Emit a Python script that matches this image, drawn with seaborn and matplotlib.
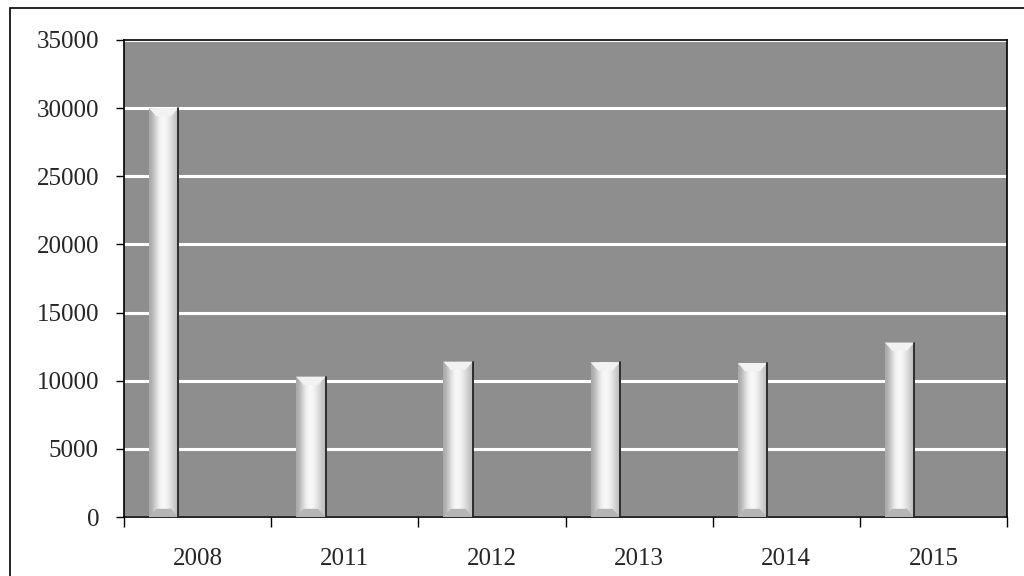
import numpy as np
import pandas as pd
import matplotlib
matplotlib.use('Agg')
import matplotlib.pyplot as plt
import seaborn as sns
from matplotlib.patches import Rectangle, Polygon

# Данные с графика
years = ['2008', '2011', '2012', '2013', '2014', '2015']
values = [30000, 10300, 11400, 11350, 11300, 12800]
y_ticks = [0, 5000, 10000, 15000, 20000, 25000, 30000, 35000]

df = pd.DataFrame({'Year': years, 'Value': values})

sns.set_theme(style='white')
plt.rcParams['font.family'] = ['Liberation Serif', 'DejaVu Serif']

fig = plt.figure(figsize=(10.24, 5.76), dpi=100)
ax = fig.add_axes([124 / 1024, 1 - 517 / 576, (1007 - 124) / 1024, (517 - 40) / 576])

# рамка вокруг всей картинки
fig.patches.append(Rectangle((10 / 1024, -0.01), 1.1, 1 - 8 / 576 + 0.01,
                             transform=fig.transFigure, fill=False,
                             edgecolor='black', linewidth=1.2))

ax.set_facecolor('#8e8e8e')
sns.barplot(data=df, x='Year', y='Value', ax=ax, width=0.2,
            color='#d8d8d8', edgecolor='none', linewidth=0, zorder=3)

# сдвиг столбиков влево и "объёмная" заливка
grad = np.array([[0.66, 0.82, 0.95, 0.98, 0.93, 0.84, 0.74]])
for p in ax.patches:
    p.set_x(p.get_x() - 0.23)
    x0, w, h = p.get_x(), p.get_width(), p.get_height()
    im = ax.imshow(grad, cmap='gray', vmin=0, vmax=1, aspect='auto',
                   extent=(x0, x0 + w, 0, h), zorder=4, interpolation='bicubic')
    im.set_clip_path(p)
    # верхняя фаска
    bev = 600
    ax.add_patch(Polygon([(x0, h), (x0 + w, h), (x0 + w * 0.75, h - bev), (x0 + w * 0.25, h - bev)],
                         closed=True, facecolor='#f2f2f2', edgecolor='none', zorder=5))
    # нижняя фаска
    ax.add_patch(Polygon([(x0, 0), (x0 + w, 0), (x0 + w * 0.75, bev), (x0 + w * 0.25, bev)],
                         closed=True, facecolor='#b5b5b5', edgecolor='none', zorder=5))
    # тёмная правая грань
    ax.plot([x0 + w, x0 + w], [0, h], color='#222222', lw=1.3, zorder=6)

ax.set_xlim(-0.5, 5.5)
ax.set_ylim(0, 35000)
ax.set_yticks(y_ticks)
ax.yaxis.grid(True, color='white', linewidth=2.2, zorder=1)
ax.set_axisbelow(True)

# засечки по границам категорий, подписи по центрам
ax.set_xticks(np.arange(-0.5, 6, 1))
ax.set_xticklabels([])
ax.set_xticks(np.arange(len(years)), minor=True)
ax.set_xticklabels(years, minor=True, fontsize=18)
ax.tick_params(axis='x', which='major', length=7, width=1, color='black', direction='out', bottom=True)
ax.tick_params(axis='x', which='minor', length=0, pad=22)
ax.tick_params(axis='y', length=6, width=1, color='black', direction='out', left=True, pad=12, labelsize=18)

ax.set_xlabel('')
ax.set_ylabel('')
for s in ax.spines.values():
    s.set_color('black')
    s.set_linewidth(1.2)
    s.set_visible(True)

fig.savefig('out.png', dpi=100, facecolor='white')
